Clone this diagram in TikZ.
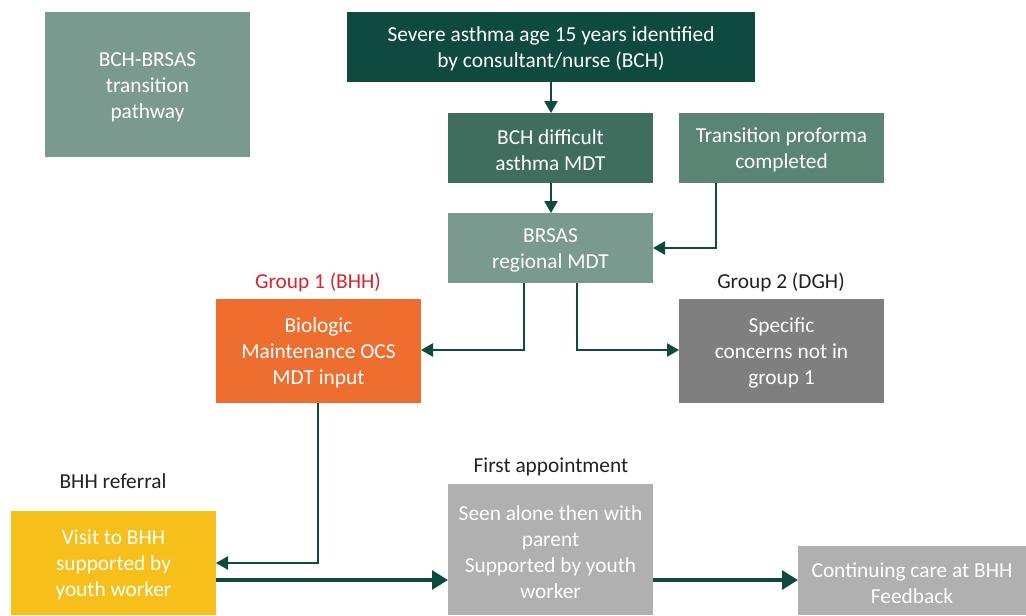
\documentclass[tikz,border=0pt]{standalone}
\usepackage{fontspec}
\setmainfont{Carlito}
\usetikzlibrary{arrows.meta}
\definecolor{dkgreen}{HTML}{0F4A3E}
\definecolor{midgreen}{HTML}{3F6E5F}
\definecolor{ltgreen}{HTML}{5A8474}
\definecolor{sage}{HTML}{7A9A90}
\definecolor{orng}{HTML}{EE6E30}
\definecolor{dgrey}{HTML}{7F7F80}
\definecolor{lgrey}{HTML}{B0B0B1}
\definecolor{yell}{HTML}{F7BF1A}
\definecolor{redlab}{HTML}{D6262B}
\definecolor{txt}{HTML}{222222}
\begin{document}
\begin{tikzpicture}[x=0.75pt,y=-0.75pt,
  box/.style={fill=#1,draw=none,text=white,align=center,inner sep=0pt,
    font=\fontsize{16pt}{19.5pt}\selectfont},
  lab/.style={text=txt,font=\fontsize{16pt}{19.5pt}\selectfont,inner sep=0pt},
  thin/.style={draw=dkgreen,line width=1.2pt,-{Triangle[length=9pt,width=10pt]}},
  thick/.style={draw=dkgreen,line width=3pt,-{Triangle[length=12pt,width=14pt]}}]
\useasboundingbox (0,0) rectangle (1026,615);
\fill[sage] (45,12) rectangle (250,157);
\node[box=sage] (title) at (147.5,87) {BCH-BRSAS\\transition\\pathway};
\fill[dkgreen] (347,12) rectangle (755,82);
\node[box=dkgreen] (top) at (551,49) {Severe asthma age 15 years identified\\by consultant/nurse (BCH)};
\coordinate (topS) at (551,82);
\fill[midgreen] (448,113) rectangle (653,183);
\node[box=midgreen] (bch) at (550.5,150) {BCH difficult\\asthma MDT};
\fill[ltgreen] (679,113) rectangle (884,183);
\node[box=ltgreen] (proforma) at (781.5,150) {Transition proforma\\completed};
\fill[sage] (448,213) rectangle (653,283);
\node[box=sage] (brsas) at (550.5,250) {BRSAS\\regional MDT};
\fill[orng] (216,299) rectangle (421,403);
\node[box=orng] (g1) at (318.5,353) {Biologic\\Maintenance OCS\\MDT input};
\fill[dgrey] (679,299) rectangle (884,403);
\node[box=dgrey] (g2) at (781.5,353) {Specific\\concerns not in\\group 1};
\fill[yell] (11,511) rectangle (216,615);
\node[box=yell] (visit) at (113.5,565) {Visit to BHH\\supported by\\youth worker};
\fill[lgrey] (448,484) rectangle (653,615);
\node[box=lgrey] (first) at (550.5,552) {Seen alone then with\\parent\\Supported by youth\\worker};
\fill[lgrey] (798,546) rectangle (1026,615);
\node[box=lgrey] (cont) at (912,583) {Continuing care at BHH\\Feedback};
\node[lab,text=redlab] (l1) at (318,282) {Group 1 (BHH)};
\node[lab] (l2) at (781,282) {Group 2 (DGH)};
\node[lab] (l3) at (113,481) {BHH referral};
\node[lab] (l4) at (551,467) {First appointment};
% connectors
\draw[thin] (topS) -- (551,113);
\draw[thin] (551,183) -- (551,213);
\draw[thin] (716,183) |- (653,248);
\draw[thin] (524,283) |- (421,350);
\draw[thin] (577,283) |- (679,350);
\draw[thin] (318,403) |- (216,563);
\draw[thick] (216,580) -- (448,580);
\draw[thick] (653,580) -- (798,580);
\end{tikzpicture}
\end{document}
